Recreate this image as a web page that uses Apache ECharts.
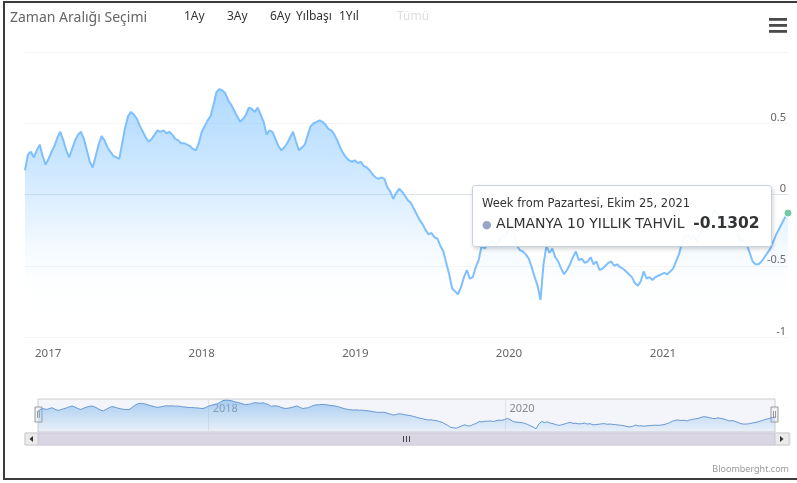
<!DOCTYPE html>
<html>
<head>
<meta charset="utf-8">
<script src="https://cdn.jsdelivr.net/npm/echarts@6/dist/echarts.min.js"></script>
<style>
  html, body { margin: 0; padding: 0; background: #fff; }
  #wrap { position: relative; width: 797px; height: 483px; overflow: hidden; }
  #chart { position: absolute; left: 0; top: 0; width: 797px; height: 483px; }
  #frame { position: absolute; left: 3px; top: 1px; width: 800px; height: 479px;
           border-left: 2px solid #3c3c3c; border-top: 2px solid #3c3c3c; border-bottom: 2px solid #3c3c3c;
           box-sizing: border-box; pointer-events: none; }
</style>
</head>
<body>
<div id="wrap">
  <div id="chart"></div>
  <div id="frame"></div>
</div>
<script>
// Weekly close of the German 10-year Bund yield (%), first week starts Monday 2016-11-07
const firstWeek = [2016, 10, 7];
const weeklyYield = [
  0.17, 0.28, 0.30, 0.26, 0.31, 0.35, 0.27, 0.21, 0.25, 0.30,
  0.34, 0.40, 0.44, 0.38, 0.31, 0.26, 0.32, 0.38, 0.42, 0.44,
  0.39, 0.31, 0.23, 0.19, 0.27, 0.35, 0.41, 0.38, 0.33, 0.30,
  0.27, 0.26, 0.25, 0.36, 0.47, 0.55, 0.58, 0.56, 0.53, 0.48,
  0.44, 0.40, 0.37, 0.39, 0.42, 0.45, 0.44, 0.45, 0.43, 0.44,
  0.42, 0.39, 0.38, 0.36, 0.36, 0.35, 0.34, 0.32, 0.31, 0.36,
  0.44, 0.48, 0.52, 0.55, 0.63, 0.72, 0.74, 0.73, 0.71, 0.66,
  0.63, 0.59, 0.55, 0.51, 0.53, 0.56, 0.61, 0.60, 0.58, 0.61,
  0.56, 0.51, 0.42, 0.45, 0.44, 0.39, 0.34, 0.31, 0.33, 0.36,
  0.40, 0.44, 0.37, 0.31, 0.33, 0.35, 0.42, 0.48, 0.50, 0.51,
  0.52, 0.51, 0.49, 0.46, 0.45, 0.42, 0.38, 0.33, 0.29, 0.26,
  0.24, 0.23, 0.24, 0.22, 0.23, 0.20, 0.19, 0.17, 0.14, 0.12,
  0.11, 0.12, 0.11, 0.05, 0.02, -0.03, 0.01, 0.04, 0.02, -0.01,
  -0.04, -0.06, -0.10, -0.14, -0.18, -0.21, -0.25, -0.28, -0.27, -0.30,
  -0.31, -0.36, -0.40, -0.48, -0.56, -0.66, -0.68, -0.70, -0.65, -0.58,
  -0.53, -0.59, -0.58, -0.51, -0.46, -0.36, -0.38, -0.35, -0.34, -0.33,
  -0.36, -0.32, -0.29, -0.30, -0.25, -0.20, -0.27, -0.36, -0.39, -0.40,
  -0.42, -0.45, -0.51, -0.58, -0.64, -0.74, -0.49, -0.36, -0.41, -0.38,
  -0.44, -0.47, -0.52, -0.56, -0.53, -0.49, -0.44, -0.40, -0.46, -0.45,
  -0.48, -0.47, -0.44, -0.49, -0.47, -0.53, -0.52, -0.50, -0.48, -0.47,
  -0.50, -0.49, -0.51, -0.52, -0.54, -0.56, -0.58, -0.62, -0.64, -0.61,
  -0.54, -0.59, -0.58, -0.60, -0.58, -0.57, -0.56, -0.55, -0.56, -0.54,
  -0.52, -0.47, -0.42, -0.34, -0.30, -0.28, -0.31, -0.29, -0.33, -0.28,
  -0.25, -0.22, -0.20, -0.15, -0.11, -0.13, -0.16, -0.20, -0.21, -0.17,
  -0.20, -0.23, -0.28, -0.33, -0.31, -0.35, -0.41, -0.47, -0.49, -0.49,
  -0.47, -0.44, -0.41, -0.38, -0.33, -0.28, -0.24, -0.20, -0.16, -0.1302
];
const seriesName = 'ALMANYA 10 YILLIK TAHVİL';
const yearTicks = [2017, 2018, 2019, 2020, 2021];
const navigatorYears = [2018, 2020];
const rangeTitle = 'Zaman Aralığı Seçimi';
const rangeButtons = ['1Ay', '3Ay', '6Ay', 'Yılbaşı', '1Yıl', 'Tümü'];
const dayNames = ['Pazar', 'Pazartesi', 'Salı', 'Çarşamba', 'Perşembe', 'Cuma', 'Cumartesi'];
const monthNames = ['Ocak', 'Şubat', 'Mart', 'Nisan', 'Mayıs', 'Haziran', 'Temmuz',
                    'Ağustos', 'Eylül', 'Ekim', 'Kasım', 'Aralık'];
const creditText = 'Bloomberght.com';

const WEEK = 7 * 24 * 3600 * 1000;
const start = Date.UTC(firstWeek[0], firstWeek[1], firstWeek[2]);
const weekDates = weeklyYield.map((_, i) => start + i * WEEK);
const points = weeklyYield.map((v, i) => [weekDates[i], v]);
const lastIdx = weeklyYield.length - 1;
const yearStarts = yearTicks.map(y => Date.UTC(y, 0, 1));
const navStarts = navigatorYears.map(y => Date.UTC(y, 0, 1));

const FONT = '"Noto Sans", "Open Sans", sans-serif';
const TIP_FONT = "'DejaVu Sans', 'Noto Sans', sans-serif";
const blue = '#74aee8';
const yearOf = v => String(new Date(v).getUTCFullYear());

// vertical fade of the area under the line
const mainFill = new echarts.graphic.LinearGradient(0, 0, 0, 1, [
  { offset: 0, color: 'rgba(124,181,236,0.95)' },
  { offset: 0.3, color: 'rgba(124,181,236,0.62)' },
  { offset: 0.5, color: 'rgba(124,181,236,0.33)' },
  { offset: 0.65, color: 'rgba(124,181,236,0.12)' },
  { offset: 0.78, color: 'rgba(124,181,236,0.02)' },
  { offset: 1, color: 'rgba(124,181,236,0)' }
]);

function headerDate(ts) {
  const d = new Date(ts);
  return 'Week from ' + dayNames[d.getUTCDay()] + ', ' + monthNames[d.getUTCMonth()] + ' ' +
    d.getUTCDate() + ', ' + d.getUTCFullYear();
}

// range selector row
const selectorItems = [];
selectorItems.push({
  type: 'text', left: 10, top: 11,
  style: { text: rangeTitle, fill: '#666', font: '14px ' + FONT }
});
const buttonX = [184, 227, 270, 296, 339, 397];
rangeButtons.forEach((b, i) => {
  selectorItems.push({
    type: 'text', left: buttonX[i], top: 11,
    style: { text: b, fill: i === rangeButtons.length - 1 ? '#dedede' : '#333', font: '12px ' + FONT }
  });
});

// export menu icon
const menuIcon = [0, 1, 2].map(k => ({
  type: 'rect', shape: { x: 769, y: 18 + k * 6, width: 18, height: 2.8 },
  style: { fill: '#4a4a4a' }
}));

// scrollbar and navigator handles
const scrollbar = [
  { type: 'rect', shape: { x: 25, y: 433, width: 765, height: 12 }, style: { fill: '#f2f2f2', stroke: '#e0e0e0', lineWidth: 1 } },
  { type: 'rect', shape: { x: 38, y: 433, width: 737, height: 12 }, style: { fill: '#d9d5e2', stroke: '#cfcad9', lineWidth: 1 } },
  { type: 'rect', shape: { x: 25, y: 433, width: 13, height: 12 }, style: { fill: '#ebebeb', stroke: '#cccccc', lineWidth: 1 } },
  { type: 'rect', shape: { x: 775, y: 433, width: 14, height: 12 }, style: { fill: '#ebebeb', stroke: '#cccccc', lineWidth: 1 } },
  { type: 'polygon', shape: { points: [[33, 436], [33, 442], [29.5, 439]] }, style: { fill: '#333' } },
  { type: 'polygon', shape: { points: [[780, 436], [780, 442], [783.5, 439]] }, style: { fill: '#333' } },
  { type: 'rect', shape: { x: 403, y: 436, width: 1, height: 6 }, style: { fill: '#444' } },
  { type: 'rect', shape: { x: 406, y: 436, width: 1, height: 6 }, style: { fill: '#444' } },
  { type: 'rect', shape: { x: 409, y: 436, width: 1, height: 6 }, style: { fill: '#444' } }
];
const handles = [35, 771].map(x => [
  { type: 'rect', shape: { x: x, y: 407, width: 7, height: 15 }, style: { fill: '#f2f2f2', stroke: '#999', lineWidth: 1 } },
  { type: 'line', shape: { x1: x + 2.5, y1: 411, x2: x + 2.5, y2: 418 }, style: { stroke: '#999', lineWidth: 1 } },
  { type: 'line', shape: { x1: x + 4.5, y1: 411, x2: x + 4.5, y2: 418 }, style: { stroke: '#999', lineWidth: 1 } }
]).flat();

const credit = {
  type: 'text', right: 8, top: 465,
  style: { text: creditText, fill: '#999', font: '9px ' + FONT }
};

const chart = echarts.init(document.getElementById('chart'), null, { renderer: 'canvas' });
chart.setOption({
  animation: false,
  backgroundColor: '#fff',
  textStyle: { fontFamily: FONT },
  grid: [
    { left: 25, right: 9, top: 52, bottom: 146 },
    { left: 38, right: 22, top: 399, height: 33, show: true,
      backgroundColor: 'rgba(102,133,194,0.08)', borderColor: '#cccccc', borderWidth: 1 }
  ],
  xAxis: [
    {
      type: 'value', gridIndex: 0, min: weekDates[0], max: weekDates[lastIdx],
      axisLine: { lineStyle: { color: '#dde3ee' } },
      axisTick: { show: false, customValues: yearStarts },
      axisLabel: {
        customValues: yearStarts, color: '#666', fontSize: 11.5, margin: 11,
        formatter: yearOf
      },
      splitLine: { show: false }
    },
    {
      type: 'value', gridIndex: 1, position: 'top', min: weekDates[0], max: weekDates[lastIdx],
      axisLine: { show: false },
      axisTick: { show: false, customValues: navStarts },
      axisLabel: {
        customValues: navStarts, inside: true, color: '#888', fontSize: 11, margin: 4,
        align: 'left', padding: [0, 0, 0, 4], verticalAlign: 'top',
        formatter: yearOf
      },
      splitLine: { show: true, lineStyle: { color: '#e3e3e3' } }
    }
  ],
  yAxis: [
    {
      type: 'value', gridIndex: 0, position: 'right', min: -1, max: 1, interval: 0.5,
      axisLine: { show: false }, axisTick: { show: false },
      axisLabel: {
        inside: true, showMaxLabel: false, color: '#666', fontSize: 11, margin: 2,
        verticalAlign: 'bottom', formatter: v => String(v)
      },
      splitLine: { lineStyle: { color: '#f5f5f5' } }
    },
    { type: 'value', gridIndex: 1, min: -0.9, max: 0.8, show: false }
  ],
  tooltip: {
    trigger: 'axis',
    triggerOn: 'none',
    alwaysShowContent: true,
    axisPointer: { type: 'none' },
    position: () => [472, 185],
    backgroundColor: 'rgba(255,255,255,0.94)',
    borderColor: '#c9d3df',
    borderWidth: 1,
    padding: [10, 9, 10, 9],
    extraCssText: 'box-shadow: 1px 2px 4px rgba(0,0,0,0.18); border-radius: 3px; width: 280px; height: 40px;',
    formatter: params => {
      const p = Array.isArray(params) ? params[0] : params;
      const idx = p.dataIndex;
      return '<div style="font: 11.5px ' + TIP_FONT + '; color:#333; line-height:14px;">' +
        headerDate(weekDates[idx]) + '</div>' +
        '<div style="font: 14px ' + TIP_FONT + '; color:#333; line-height:20px; margin-top:3px; white-space:nowrap;">' +
        '<span style="color:#9aa3c8; font-size:11px;">●</span> ' + seriesName +
        '&nbsp;&nbsp;<b style="font-size:15.5px;">' + weeklyYield[idx].toFixed(4) + '</b></div>';
    }
  },
  graphic: [].concat(selectorItems, menuIcon, scrollbar, handles, [credit]),
  series: [
    {
      name: seriesName, type: 'line', xAxisIndex: 0, yAxisIndex: 0,
      data: points, showSymbol: false, symbol: 'circle',
      lineStyle: { color: blue, width: 2 },
      itemStyle: { color: blue },
      areaStyle: { origin: 'start', color: mainFill },
      markPoint: {
        silent: true, symbol: 'circle', symbolSize: 8, label: { show: false },
        itemStyle: { color: '#74c9a6', borderColor: '#fff', borderWidth: 1 },
        data: [{ coord: points[lastIdx] }]
      }
    },
    {
      type: 'line', xAxisIndex: 1, yAxisIndex: 1, data: points, silent: true,
      showSymbol: false, lineStyle: { color: '#6898d2', width: 1 },
      areaStyle: { origin: 'start', color: new echarts.graphic.LinearGradient(0, 0, 0, 1, [
        { offset: 0, color: 'rgba(124,181,236,0.9)' },
        { offset: 1, color: 'rgba(124,181,236,0.1)' }
      ]) }
    }
  ]
});
chart.dispatchAction({ type: 'showTip', seriesIndex: 0, dataIndex: lastIdx });
</script>
</body>
</html>
